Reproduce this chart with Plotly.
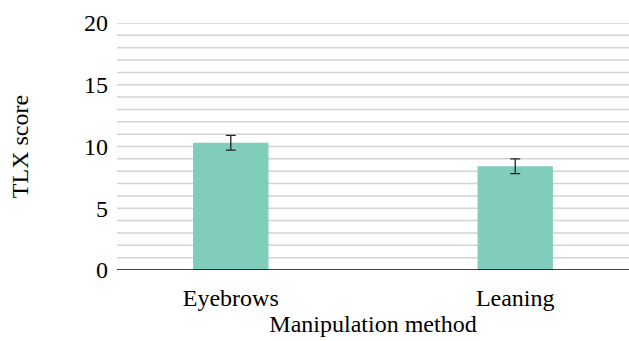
import plotly.graph_objects as go

# Mean NASA-TLX workload per manipulation method, with standard error
methods = ["Eyebrows", "Leaning"]
tlx_mean = [10.3, 8.4]
tlx_err = [0.6, 0.6]

BAR_COLOR = "#80cdbc"
FONT = "Liberation Serif, Times New Roman, serif"
FS = 24

fig = go.Figure(
    go.Bar(
        x=methods,
        y=tlx_mean,
        width=0.265,
        marker=dict(color=BAR_COLOR, line=dict(width=0)),
        error_y=dict(type="data", array=tlx_err, visible=True,
                     color="#222222", thickness=1.3, width=5),
    )
)

fig.update_layout(
    width=629,
    height=341,
    margin=dict(l=117, r=0, t=23, b=71),
    paper_bgcolor="white",
    plot_bgcolor="white",
    font=dict(family=FONT, size=FS, color="black"),
    showlegend=False,
    xaxis=dict(
        range=[-0.4, 1.4],
        showgrid=False,
        showline=False,
        ticks="",
        ticklabelstandoff=11,
        tickfont=dict(size=FS),
        title=dict(text="Manipulation method", font=dict(size=FS), standoff=2),
    ),
    yaxis=dict(
        range=[0, 20],
        tickvals=[0, 5, 10, 15, 20],
        showgrid=False,
        zeroline=False,
        showline=False,
        ticks="",
        ticklabelstandoff=8,
        tickfont=dict(size=FS),
        title=dict(text="TLX score", font=dict(size=FS), standoff=48),
    ),
)

# Horizontal guide at every unit, with a solid baseline at zero
for v in range(1, 21):
    fig.add_hline(y=v, line=dict(color="#d3d3d3", width=1.5), layer="below")
fig.add_hline(y=0, line=dict(color="black", width=1.6), layer="above")

fig.write_html("out.html")
